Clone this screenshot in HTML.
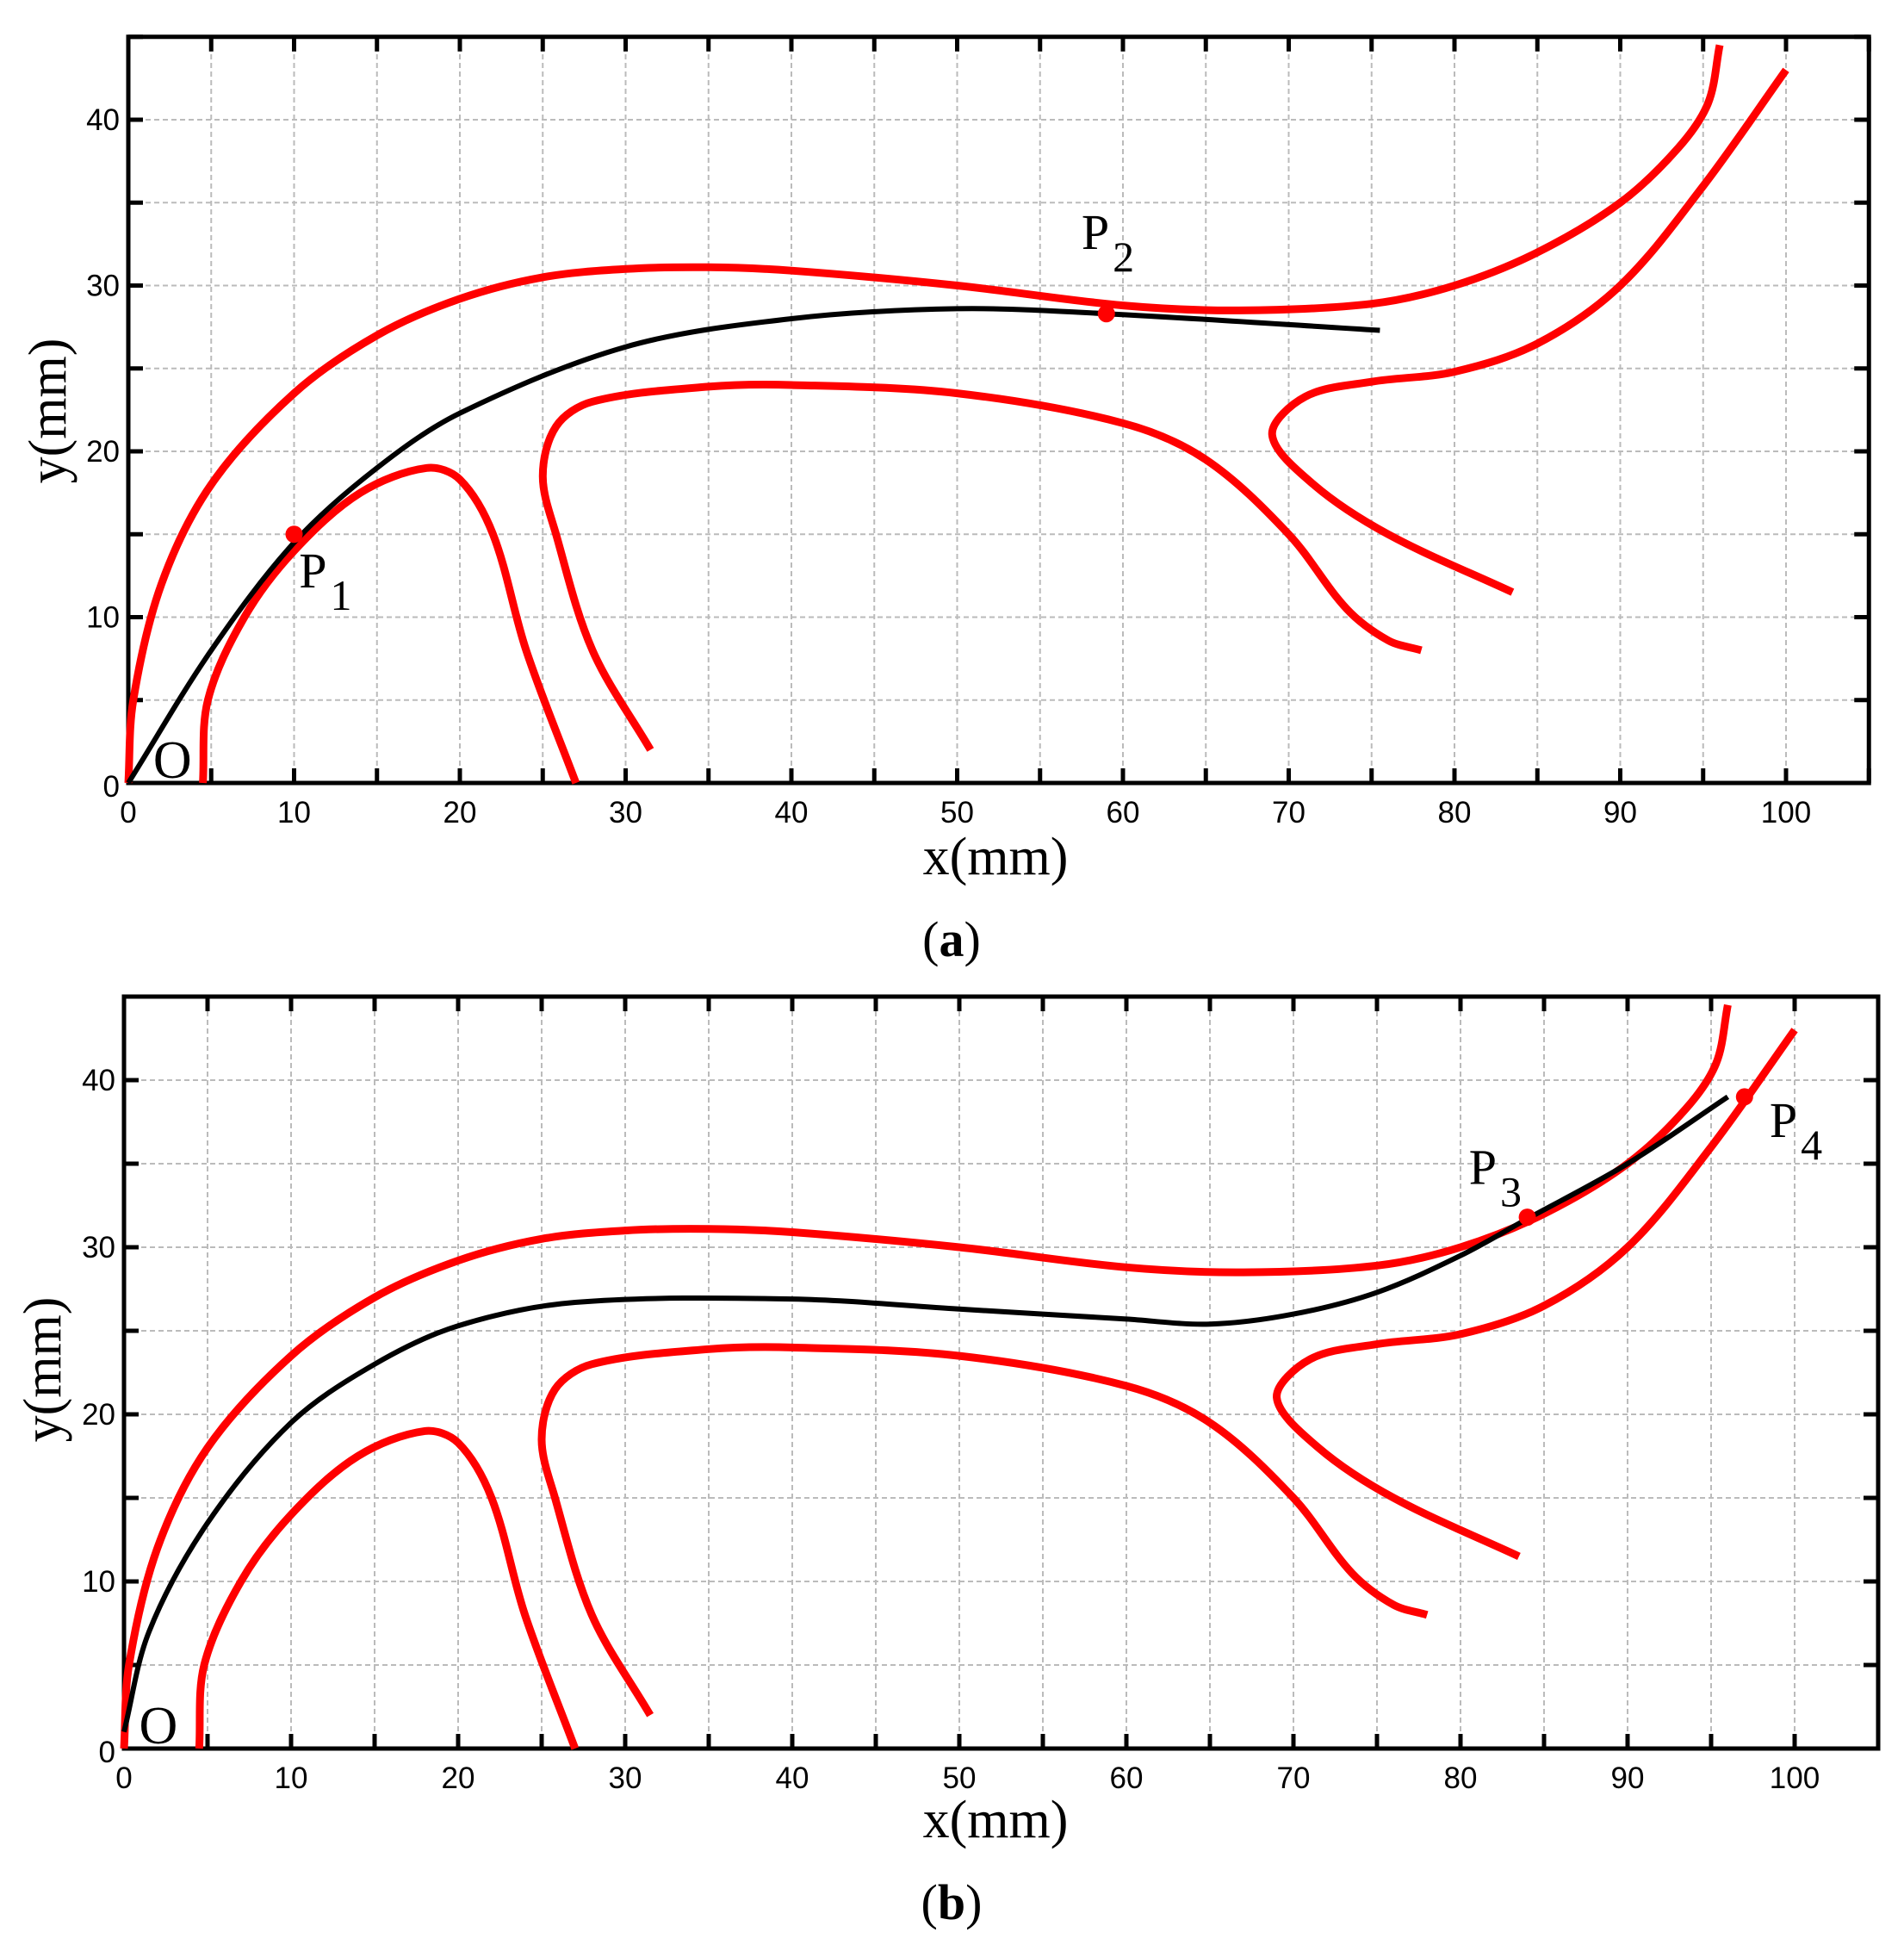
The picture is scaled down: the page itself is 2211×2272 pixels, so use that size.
<!DOCTYPE html>
<html><head><meta charset="utf-8"><style>body{margin:0;background:#fff}svg{display:block}</style></head>
<body>
<svg id="s" width="2211" height="2272" xmlns="http://www.w3.org/2000/svg">
<text x="1156" y="1015" font-family="Liberation Serif, serif" font-size="62" text-anchor="middle">x(mm)</text>
<text x="1105" y="1110" font-family="Liberation Serif, serif" font-size="58" text-anchor="middle">(<tspan font-weight="bold">a</tspan>)</text>
<text transform="translate(76,477) rotate(-90)" font-family="Liberation Serif, serif" font-size="62" text-anchor="middle">y(mm)</text>
<text x="1156" y="2133" font-family="Liberation Serif, serif" font-size="62" text-anchor="middle">x(mm)</text>
<text x="1105" y="2228" font-family="Liberation Serif, serif" font-size="58" text-anchor="middle">(<tspan font-weight="bold">b</tspan>)</text>
<text transform="translate(70,1590) rotate(-90)" font-family="Liberation Serif, serif" font-size="62" text-anchor="middle">y(mm)</text>
</svg>
<script>
const NS="http://www.w3.org/2000/svg",S=document.getElementById("s");
function el(t,a,txt){const e=document.createElementNS(NS,t);for(const k in a)e.setAttribute(k,a[k]);if(txt!==undefined)e.textContent=txt;S.appendChild(e);return e;}
const D=(a,b)=>Math.hypot(a[0]-b[0],a[1]-b[1])||1e-6;
function cr(p){let d="M"+p[0][0].toFixed(1)+","+p[0][1].toFixed(1);for(let i=0;i<p.length-1;i++){const p0=p[i-1]||p[i],p1=p[i],p2=p[i+1],p3=p[i+2]||p2;
const d0=D(p0,p1),d1=D(p1,p2),d2=D(p2,p3);
const k1=d1/(3*(d0+d1)),k2=d1/(3*(d1+d2));
const c1=[p1[0]+(p2[0]-p0[0])*k1,p1[1]+(p2[1]-p0[1])*k1],c2=[p2[0]-(p3[0]-p1[0])*k2,p2[1]-(p3[1]-p1[1])*k2];
d+=`C${c1[0].toFixed(1)},${c1[1].toFixed(1)} ${c2[0].toFixed(1)},${c2[1].toFixed(1)} ${p2[0].toFixed(1)},${p2[1].toFixed(1)}`;}return d;}
const R1=[[0,0],[0.3,5],[2,12],[5,18],[10,23.5],[15,27],[20,29.2],[25,30.5],[30,31],[35,31.1],[40,30.9],[50,30],[60,28.8],[67,28.5],[75,28.9],[80,30],[85,32],[90,35],[93.5,38.3],[95.3,41],[96,44.5]];
const R2=[[4.5,0],[4.8,5],[7,10],[10,14],[14,17.5],[18,19],[20,18.3],[22,15],[24,8],[27,0]];
const R3=[[31.5,2],[28,8],[25.8,15],[25,18.5],[25.8,21.5],[28,23],[35,23.9],[40,24],[50,23.5],[60,21.7],[65,19.5],[70,15],[73.5,10.5],[76,8.6],[78,8]];
const R4=[[83.5,11.5],[76,15],[71.5,18],[69,21],[71,23.3],[75,24.2],[80,24.8],[85,26.5],[90,30],[95,36],[100,43]];
function plot(X0,Y0,s,black,pts,labels){
 const tx=x=>X0+x*s,ty=y=>Y0-y*s;
 for(let i=5;i<105;i+=5)el("line",{x1:tx(i),y1:ty(0),x2:tx(i),y2:ty(45),stroke:"#bbb","stroke-width":2,"stroke-dasharray":"6,4"});
 for(let i=5;i<45;i+=5)el("line",{x1:tx(0),y1:ty(i),x2:tx(105),y2:ty(i),stroke:"#bbb","stroke-width":2,"stroke-dasharray":"6,4"});
 for(let i=0;i<=105;i+=5){el("line",{x1:tx(i),y1:ty(0),x2:tx(i),y2:ty(0)-17,stroke:"#000","stroke-width":5});el("line",{x1:tx(i),y1:ty(45),x2:tx(i),y2:ty(45)+17,stroke:"#000","stroke-width":5});
  if(i%10==0&&i<=100)el("text",{x:tx(i),y:ty(0)+46,"font-family":"Liberation Sans, sans-serif","font-size":35,"text-anchor":"middle"},i);}
 for(let i=0;i<=45;i+=5){el("line",{x1:tx(0),y1:ty(i),x2:tx(0)+17,y2:ty(i),stroke:"#000","stroke-width":5});el("line",{x1:tx(105),y1:ty(i),x2:tx(105)-17,y2:ty(i),stroke:"#000","stroke-width":5});
  if(i%10==0)el("text",{x:tx(0)-10,y:ty(i)+(i==0?16:12),"font-family":"Liberation Sans, sans-serif","font-size":35,"text-anchor":"end"},i);}
 el("rect",{x:tx(0),y:ty(45),width:105*s,height:45*s,fill:"none",stroke:"#000","stroke-width":5});
 for(const c of [R1,R2,R3,R4])el("path",{d:cr(c.map(p=>[tx(p[0]),ty(p[1])])),fill:"none",stroke:"#f00","stroke-width":9});
 el("path",{d:cr(black.map(p=>[tx(p[0]),ty(p[1])])),fill:"none",stroke:"#000","stroke-width":6});
 for(const p of pts)el("circle",{cx:tx(p[0]),cy:ty(p[1]),r:10,fill:"#f00"});
 for(const l of labels){const t=el("text",{x:tx(l[1]),y:ty(l[2]),"font-family":"Liberation Serif, serif","font-size":l[3]?58:62},l[0]);
  if(l[3]){const ts=document.createElementNS(NS,"tspan");ts.setAttribute("dy","26");ts.setAttribute("dx","4");ts.setAttribute("font-size","50");ts.textContent=l[3];t.appendChild(ts);}}
}
plot(149,909,19.25,[[0,0],[5,8],[10,14.5],[15,19],[20,22.3],[30,26.3],[40,28],[50,28.6],[59,28.3],[75.5,27.3]],[[10,15],[59,28.3]],
 [["O",1.5,0.3],["P",10.3,11.8,"1"],["P",57.5,32.2,"2"]]);
plot(144,2030,19.4,[[0,1],[1.5,7],[5,13.5],[10,19.5],[15,23],[20,25.3],[27,26.7],[40,26.9],[50,26.3],[60,25.7],[65,25.4],[70,26],[75,27.3],[80,29.5],[84,31.7],[90,35],[96,39]],[[84,31.8],[97,39]],
 [["O",0.9,0.3],["P",80.5,33.8,"3"],["P",98.5,36.6,"4"]]);
</script>
</body></html>
